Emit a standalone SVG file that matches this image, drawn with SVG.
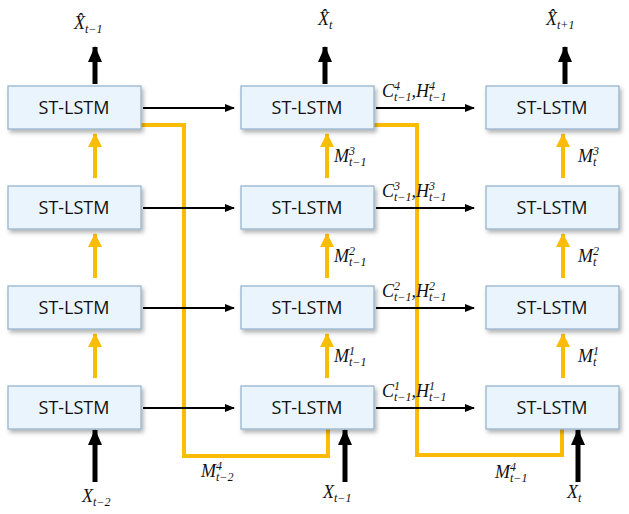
<svg xmlns="http://www.w3.org/2000/svg" width="629" height="514" viewBox="0 0 629 514">
<style>
.n{fill:#eaf4fd;stroke:#8fb0cc;stroke-width:1.2}
.t{font-family:"Open Sans","Noto Sans",sans-serif;font-size:18px;text-anchor:middle;fill:#111}
.m{font-family:"Liberation Serif",serif;font-style:italic;font-size:18px;fill:#111}
.s{font-size:12px}
.k{stroke:#000;stroke-width:2;fill:none}
.kb{stroke:#000;stroke-width:5;fill:none}
.y{stroke:#fbbc05;stroke-width:4;fill:none}
</style>
<defs>
<filter id="sh" x="-10%" y="-10%" width="130%" height="140%"><feDropShadow dx="2" dy="3" stdDeviation="2" flood-opacity="0.3"/></filter>
<marker id="ak" markerWidth="10" markerHeight="8" refX="9" refY="4" orient="auto" markerUnits="userSpaceOnUse"><path d="M0,0L10,4L0,8z" fill="#000"/></marker>
<marker id="akb" markerWidth="16" markerHeight="14" refX="15" refY="7" orient="auto" markerUnits="userSpaceOnUse"><path d="M0,0L16,7L0,14z" fill="#000"/></marker>
<marker id="ay" markerWidth="14" markerHeight="14" refX="13" refY="7" orient="auto" markerUnits="userSpaceOnUse"><path d="M0,0L14,7L0,14z" fill="#fbbc05"/></marker>
</defs>
<g id="connectors">
<path class="y" d="M141,125H184V456H328V429"/>
<path class="y" d="M374,125H417V455H562V429"/>
<g class="kb" marker-end="url(#akb)">
<path d="M95,84V47"/><path d="M325,84V47"/><path d="M565,84V47"/>
<path d="M95,482V430"/><path d="M345,482V430"/><path d="M578,482V430"/>
</g>
<g class="y" marker-end="url(#ay)">
<path d="M95,178V134"/><path d="M95,278V234"/><path d="M95,378V334"/>
<path d="M327,178V134"/><path d="M327,278V234"/><path d="M327,378V334"/>
<path d="M563,178V134"/><path d="M563,278V234"/><path d="M563,378V334"/>
</g>
<g class="k" marker-end="url(#ak)">
<path d="M143,108H234"/><path d="M143,208H234"/><path d="M143,308H234"/><path d="M143,408H234"/>
<path d="M376,108H474"/><path d="M376,208H474"/><path d="M376,308H474"/><path d="M376,408H474"/>
</g>
</g>
<g id="c1r1"><rect class="n" filter="url(#sh)" x="8" y="86" width="133" height="43"/><text class="t" x="74" y="114">ST-LSTM</text></g>
<g id="c1r2"><rect class="n" filter="url(#sh)" x="8" y="186" width="133" height="43"/><text class="t" x="74" y="214">ST-LSTM</text></g>
<g id="c1r3"><rect class="n" filter="url(#sh)" x="8" y="286" width="133" height="43"/><text class="t" x="74" y="314">ST-LSTM</text></g>
<g id="c1r4"><rect class="n" filter="url(#sh)" x="8" y="386" width="133" height="43"/><text class="t" x="74" y="414">ST-LSTM</text></g>
<g id="c2r1"><rect class="n" filter="url(#sh)" x="241" y="86" width="133" height="43"/><text class="t" x="307" y="114">ST-LSTM</text></g>
<g id="c2r2"><rect class="n" filter="url(#sh)" x="241" y="186" width="133" height="43"/><text class="t" x="307" y="214">ST-LSTM</text></g>
<g id="c2r3"><rect class="n" filter="url(#sh)" x="241" y="286" width="133" height="43"/><text class="t" x="307" y="314">ST-LSTM</text></g>
<g id="c2r4"><rect class="n" filter="url(#sh)" x="241" y="386" width="133" height="43"/><text class="t" x="307" y="414">ST-LSTM</text></g>
<g id="c3r1"><rect class="n" filter="url(#sh)" x="486" y="86" width="133" height="43"/><text class="t" x="552" y="114">ST-LSTM</text></g>
<g id="c3r2"><rect class="n" filter="url(#sh)" x="486" y="186" width="133" height="43"/><text class="t" x="552" y="214">ST-LSTM</text></g>
<g id="c3r3"><rect class="n" filter="url(#sh)" x="486" y="286" width="133" height="43"/><text class="t" x="552" y="314">ST-LSTM</text></g>
<g id="c3r4"><rect class="n" filter="url(#sh)" x="486" y="386" width="133" height="43"/><text class="t" x="552" y="414">ST-LSTM</text></g>
<g id="labels">
<text class="m" x="74" y="29">X̂<tspan class="s" dy="4">t−1</tspan></text>
<text class="m" x="318" y="25">X̂<tspan class="s" dy="4">t</tspan></text>
<text class="m" x="546" y="25">X̂<tspan class="s" dy="4">t+1</tspan></text>
<text class="m" x="82" y="502">X<tspan class="s" dy="4">t−2</tspan></text>
<text class="m" x="323" y="498">X<tspan class="s" dy="4">t−1</tspan></text>
<text class="m" x="567" y="498">X<tspan class="s" dy="4">t</tspan></text>
<text class="m" x="201" y="477">M<tspan class="s" dy="-7">4</tspan><tspan class="s" dx="-6" dy="11">t−2</tspan></text>
<text class="m" x="495" y="478">M<tspan class="s" dy="-7">4</tspan><tspan class="s" dx="-6" dy="11">t−1</tspan></text>
<g>
<text class="m" x="334" y="162">M<tspan class="s" dy="-7">3</tspan><tspan class="s" dx="-6" dy="11">t−1</tspan></text>
<text class="m" x="334" y="262">M<tspan class="s" dy="-7">2</tspan><tspan class="s" dx="-6" dy="11">t−1</tspan></text>
<text class="m" x="334" y="362">M<tspan class="s" dy="-7">1</tspan><tspan class="s" dx="-6" dy="11">t−1</tspan></text>
<text class="m" x="578" y="162">M<tspan class="s" dy="-7">3</tspan><tspan class="s" dx="-6" dy="11">t</tspan></text>
<text class="m" x="578" y="262">M<tspan class="s" dy="-7">2</tspan><tspan class="s" dx="-6" dy="11">t</tspan></text>
<text class="m" x="578" y="362">M<tspan class="s" dy="-7">1</tspan><tspan class="s" dx="-6" dy="11">t</tspan></text>
</g>
<text class="m" x="382" y="97">C<tspan class="s" dy="-7">4</tspan><tspan class="s" dx="-6" dy="11">t−1</tspan><tspan dy="-4">,H</tspan><tspan class="s" dy="-7">4</tspan><tspan class="s" dx="-6" dy="11">t−1</tspan></text>
<text class="m" x="382" y="197">C<tspan class="s" dy="-7">3</tspan><tspan class="s" dx="-6" dy="11">t−1</tspan><tspan dy="-4">,H</tspan><tspan class="s" dy="-7">3</tspan><tspan class="s" dx="-6" dy="11">t−1</tspan></text>
<text class="m" x="382" y="297">C<tspan class="s" dy="-7">2</tspan><tspan class="s" dx="-6" dy="11">t−1</tspan><tspan dy="-4">,H</tspan><tspan class="s" dy="-7">2</tspan><tspan class="s" dx="-6" dy="11">t−1</tspan></text>
<text class="m" x="382" y="397">C<tspan class="s" dy="-7">1</tspan><tspan class="s" dx="-6" dy="11">t−1</tspan><tspan dy="-4">,H</tspan><tspan class="s" dy="-7">1</tspan><tspan class="s" dx="-6" dy="11">t−1</tspan></text>
</g>
</svg>
